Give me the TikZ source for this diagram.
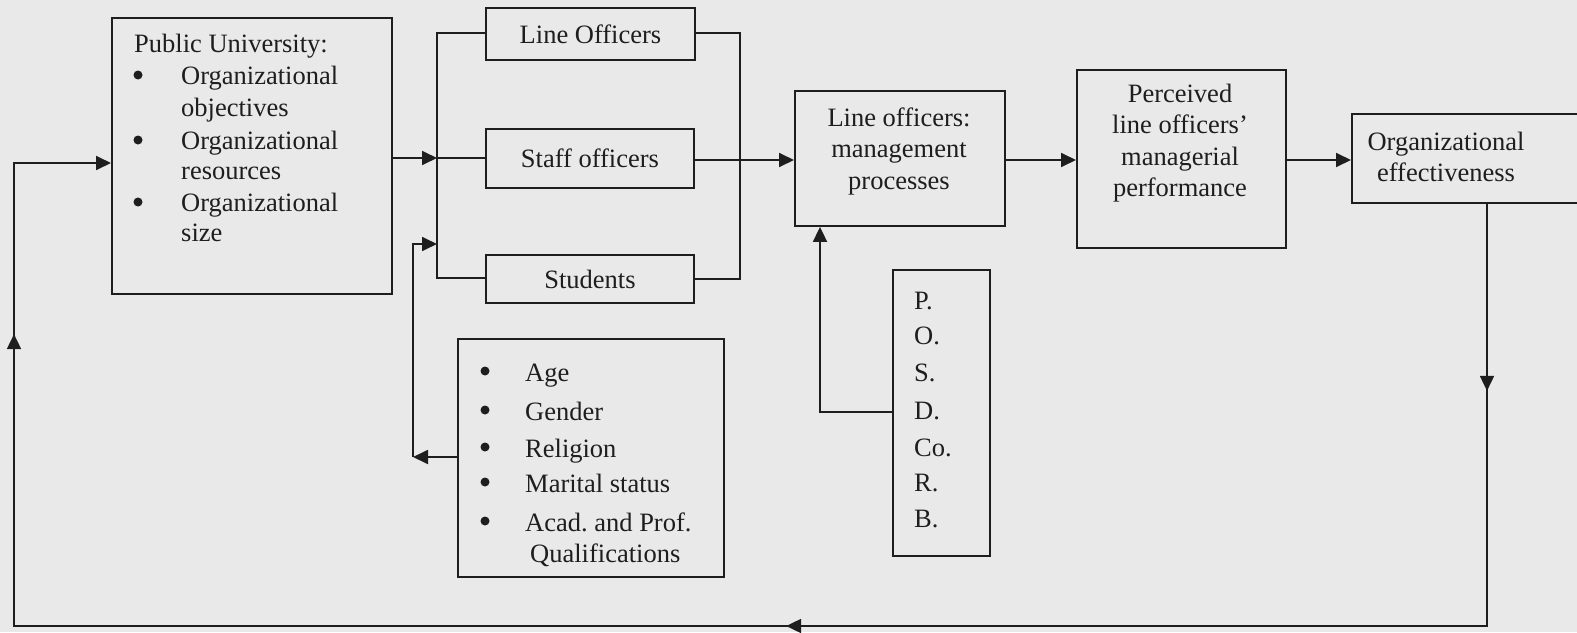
\documentclass[tikz,border=0pt]{standalone}
\usepackage{fontspec}
\setmainfont{Liberation Serif}
\usetikzlibrary{arrows.meta,decorations.markings}
\definecolor{bgc}{RGB}{233,233,233}
\definecolor{ink}{RGB}{30,30,30}
\tikzset{
  box/.style={draw=ink, line width=1.9pt, rectangle, inner sep=0pt, anchor=north west},
  txt/.style={inner sep=0pt, font=\fontsize{26.5}{31.5}\selectfont\frenchspacing, text=ink},
  bul/.style={fill=ink, circle, inner sep=0pt, minimum size=9pt},
  conn/.style={draw=ink, line width=1.8pt},
  arr/.style={conn, -{Triangle[length=15pt,width=14pt]}},
}
\begin{document}
\begin{tikzpicture}[x=1pt,y=-1pt]
\useasboundingbox (0,0) rectangle (1577,632);
\fill[bgc] (0,0) rectangle (1577,632);

% boxes
\node[box, minimum width=280pt, minimum height=276pt] (pu) at (111,17) {};
\node[box, minimum width=209pt, minimum height=52pt] (lo) at (485,7) {};
\node[box, minimum width=208pt, minimum height=59pt] (so) at (485,128) {};
\node[box, minimum width=208pt, minimum height=48pt] (st) at (485,254) {};
\node[box, minimum width=210pt, minimum height=135pt] (mp) at (794,90) {};
\node[box, minimum width=209pt, minimum height=178pt] (pp) at (1076,69) {};
\node[box, minimum width=240pt, minimum height=89pt] (oe) at (1351,113) {};
\node[box, minimum width=97pt, minimum height=286pt] (pos) at (892,269) {};
\node[box, minimum width=266pt, minimum height=238pt] (dem) at (457,338) {};

% texts
\node[txt, anchor=base west] at (134,52) {Public University:};
\foreach \y/\t in {84/Organizational, 116/objectives, 149/Organizational, 179/resources, 211/Organizational, 241/size}{
  \node[txt, anchor=base west] at (181,\y) {\t};
}
\foreach \y in {84,149,211}{ \node[bul] at (138,\y-9) {}; }

\node[txt] at (lo.center) {Line Officers};
\node[txt] at (so.center) {Staff officers};
\node[txt] at (st.center) {Students};
\node[txt, align=center, anchor=center] at (899,151) {Line officers:\\management\\processes};
\node[txt, align=center, anchor=center] at (1180,143) {Perceived\\line officers’\\managerial\\performance};
\node[txt, align=center, anchor=center] at (1446,157) {Organizational\\effectiveness};

\foreach \y/\t in {309/P., 344/O., 381/S., 419/D., 456/Co., 491/R., 527/B.}{
  \node[txt, anchor=base west] at (914,\y) {\t};
}

\foreach \y/\t in {381/Age, 420/Gender, 457/Religion, 492/Marital status, 531/{Acad. and Prof.}}{
  \node[txt, anchor=base west] at (525,\y) {\t};
  \node[bul] at (485,\y-10) {};
}
\node[txt, anchor=base west] at (530,562) {Qualifications};

% bracket on the left of the three boxes
\coordinate (bl1) at (437,33);
\coordinate (bl2) at (437,158);
\coordinate (bl3) at (437,278);
\coordinate (bl4) at (437,244);
\draw[conn] (lo.west |- bl1) -- (bl1) -- (bl3) -- (st.west |- bl3);
\draw[arr] (pu.east |- bl2) -- (bl2);
\draw[conn] (bl2) -- (so.west |- bl2);

% bracket on the right
\coordinate (br1) at (740,33);
\coordinate (br3) at (740,279);
\draw[conn] (lo.east |- br1) -- (br1) -- (br3) -- (st.east |- br3);
\draw[arr] (so.east |- 0,160) -- (mp.west |- 0,160);

% demographics to bracket
\coordinate (d1) at (413,457);
\coordinate (d2) at (413,244);
\draw[arr] (dem.west |- d1) -- (d1);
\draw[arr] (d1) -- (d2) -- (bl4);

% POSDCoRB to management processes
\coordinate (p1) at (820,412);
\draw[arr] (pos.west |- p1) -- (p1) -- (mp.south -| p1);

% main chain
\draw[arr] (mp.east |- 0,160) -- (pp.west |- 0,160);
\draw[arr] (pp.east |- 0,160) -- (oe.west |- 0,160);

% feedback loop
\coordinate (f1) at (1487,626);
\coordinate (f2) at (14,626);
\coordinate (f3) at (14,163);
\draw[conn, postaction={decorate}, decoration={markings,
   mark=at position 187pt with {\arrow[ink]{Triangle[length=15pt,width=14pt]}},
   mark=at position 1123pt with {\arrow[ink]{Triangle[length=15pt,width=14pt]}},
   mark=at position 2187pt with {\arrow[ink]{Triangle[length=15pt,width=14pt]}}},
   -{Triangle[length=15pt,width=14pt]}]
  (oe.south -| f1) -- (f1) -- (f2) -- (f3) -- (pu.west |- f3);
\end{tikzpicture}
\end{document}
